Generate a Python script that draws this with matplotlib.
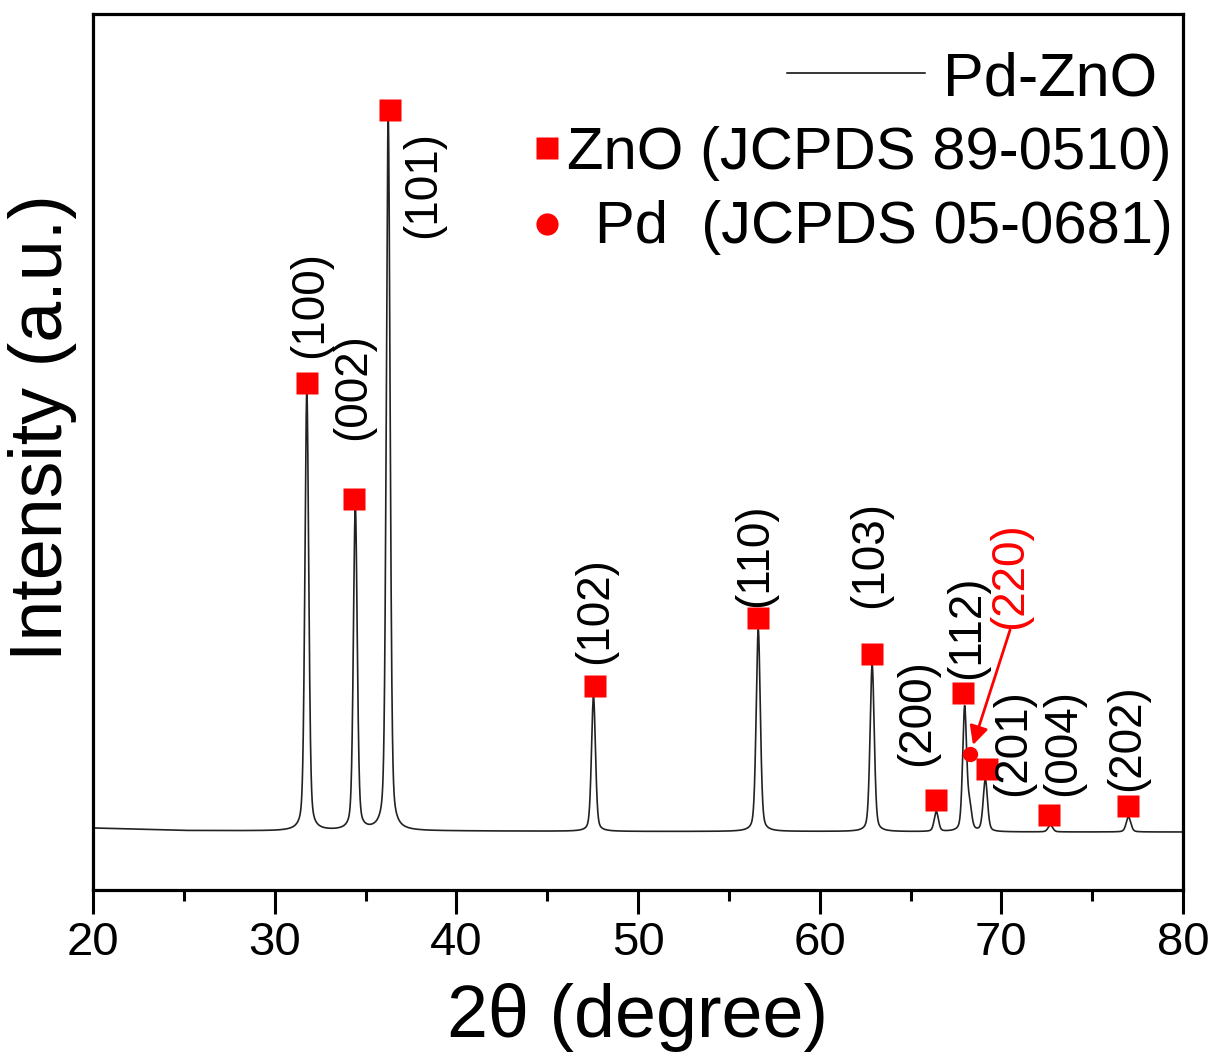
import numpy as np
import matplotlib
matplotlib.use("Agg")
import matplotlib.pyplot as plt

plt.rcParams["font.family"] = ["Liberation Sans", "DejaVu Sans"]

# scan baseline (a.u.)
base_x = [20, 25, 30, 40, 50, 60, 70, 80]
base_y = [60, 57.5, 57, 57, 56.5, 56.5, 56, 56]

# diffraction peaks: position (deg), height above baseline, FWHM (deg)
peak_pos = [31.77, 34.44, 36.25, 47.55, 56.62, 62.89, 66.42, 67.98, 68.26, 69.12, 72.70, 77.00]
peak_height = [439, 324, 713, 135, 202, 167, 20, 124, 22, 52, 7, 15]
peak_fwhm = [0.25, 0.25, 0.25, 0.26, 0.27, 0.27, 0.27, 0.26, 0.26, 0.28, 0.30, 0.30]

# ZnO reference markers (JCPDS 89-0510)
zno_hkl = ["(100)", "(002)", "(101)", "(102)", "(110)", "(103)",
           "(200)", "(112)", "(201)", "(004)", "(202)"]
zno_mark_x = [31.78, 34.37, 36.35, 47.63, 56.60, 62.88, 66.40, 67.89, 69.21, 72.62, 76.97]
zno_mark_y = [505, 389, 778, 202, 270, 234, 88, 195, 119, 73, 82]
zno_label_x = [31.94, 34.31, 38.17, 47.63, 56.44, 62.77, 65.36, 68.11, 70.64, 73.39, 76.92]
zno_label_y = [584, 501, 703, 277, 333, 333, 175, 261, 145, 145, 150]

# Pd reference marker (JCPDS 05-0681)
pd_hkl = "(220)"
pd_mark_x = [68.27]
pd_mark_y = [134]
pd_label_x = 70.48
pd_label_y = 312
pd_arrow_from = (70.48, 258)
pd_arrow_to = (68.44, 143)

W, H = 1210, 1053
ax_l, ax_r, ax_t, ax_b = 93, 1183, 14, 890


def pattern(x):
    y = np.interp(x, base_x, base_y)
    eta = 0.35
    for p, h, w in zip(peak_pos, peak_height, peak_fwhm):
        d = (x - p) / w
        lor = 1.0 / (1.0 + 4.0 * d ** 2)
        gau = np.exp(-4.0 * np.log(2) * d ** 2)
        y = y + h * (eta * lor + (1 - eta) * gau)
    return y


def to_axes(px, py):
    return (px - ax_l) / (ax_r - ax_l), (ax_b - py) / (ax_b - ax_t)


fig = plt.figure(figsize=(W / 100, H / 100), dpi=100)
ax = fig.add_axes([ax_l / W, 1 - ax_b / H, (ax_r - ax_l) / W, (ax_b - ax_t) / H])

two_theta = np.linspace(20, 80, 12001)
ax.plot(two_theta, pattern(two_theta), color="#222222", lw=1.2, zorder=2)

ax.plot(zno_mark_x, zno_mark_y, "s", color="#ff0000", ms=15.5, mec="none", zorder=3)
ax.plot(pd_mark_x, pd_mark_y, "o", color="#ff0000", ms=11, mec="none", zorder=3)

for lab, lx, ly in zip(zno_hkl, zno_label_x, zno_label_y):
    ax.text(lx, ly, lab, rotation=90, ha="center", va="center", fontsize=33, color="black")
ax.text(pd_label_x, pd_label_y, pd_hkl, rotation=90, ha="center", va="center",
        fontsize=33, color="#ff0000")
ax.annotate("", xy=pd_arrow_to, xytext=pd_arrow_from,
            arrowprops=dict(arrowstyle="-|>", color="#ff0000", lw=2,
                            mutation_scale=28, shrinkA=0, shrinkB=0))

ax.set_xlim(20, 80)
ax.set_ylim(-2, 874)
ax.set_xticks(np.arange(20, 81, 10))
ax.set_xticks(np.arange(25, 80, 10), minor=True)
ax.set_yticks([])
ax.tick_params(axis="x", which="major", direction="out", length=17, width=2.2,
               labelsize=34, pad=5)
ax.tick_params(axis="x", which="minor", direction="out", length=8, width=2.2)
for sp in ax.spines.values():
    sp.set_linewidth(2.3)

# legend drawn by hand
lx0, ly0 = to_axes(787, 73)
lx1, _ = to_axes(925, 73)
ax.plot([lx0, lx1], [ly0, ly0], color="black", lw=1.1, transform=ax.transAxes, clip_on=False)
tx, ty = to_axes(943, 95)
ax.text(tx, ty, "Pd-ZnO", fontsize=44, ha="left", va="baseline", transform=ax.transAxes)
mx, my = to_axes(547, 148)
ax.plot([mx], [my], "s", color="#ff0000", ms=16, mec="none", transform=ax.transAxes, clip_on=False)
tx, ty = to_axes(567, 169)
ax.text(tx, ty, "ZnO (JCPDS 89-0510)", fontsize=43, ha="left", va="baseline", transform=ax.transAxes)
mx, my = to_axes(547, 224)
ax.plot([mx], [my], "o", color="#ff0000", ms=16, mec="none", transform=ax.transAxes, clip_on=False)
tx, ty = to_axes(595, 243)
ax.text(tx, ty, "Pd  (JCPDS 05-0681)", fontsize=43, ha="left", va="baseline", transform=ax.transAxes)

fig.text(638 / W, 1 - 1017 / H, "2θ (degree)", fontsize=53, ha="center", va="center")
fig.text(43 / W, 1 - 428 / H, "Intensity (a.u.)", fontsize=53, rotation=90,
         ha="center", va="center")

fig.savefig("out.png", dpi=100)
